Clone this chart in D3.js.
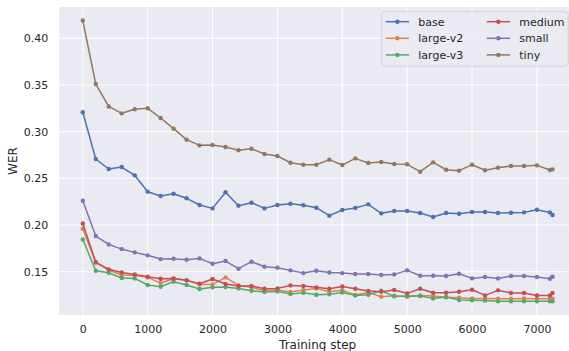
<!DOCTYPE html>
<html><head><meta charset="utf-8">
<script src="https://cdn.jsdelivr.net/npm/d3@7"></script>
<style>body{margin:0;background:#fff}svg{display:block}text{font-family:"DejaVu Sans",sans-serif;fill:#262626}</style>
</head><body><div id="chart"></div>
<script>
const steps = [0,200,400,600,800,1000,1200,1400,1600,1800,2000,2200,2400,2600,2800,3000,3200,3400,3600,3800,4000,4200,4400,4600,4800,5000,5200,5400,5600,5800,6000,6200,6400,6600,6800,7000,7200,7240];
const seriesNames = ["base","large-v2","large-v3","medium","small","tiny"];
const colors = ["#4C72B0","#DD8452","#55A868","#C44E52","#8172B3","#937860"];
const base = [0.3207,0.2707,0.2600,0.2621,0.2532,0.2357,0.2310,0.2335,0.2286,0.2214,0.2178,0.2350,0.2207,0.2239,0.2178,0.2214,0.2228,0.2211,0.2185,0.2100,0.2160,0.2182,0.2221,0.2125,0.2150,0.2150,0.2128,0.2085,0.2128,0.2120,0.2139,0.2139,0.2128,0.2132,0.2135,0.2164,0.2135,0.2107];
const largeV2 = [0.1960,0.1596,0.1518,0.1464,0.1460,0.1439,0.1378,0.1425,0.1407,0.1364,0.1364,0.1439,0.1353,0.1332,0.1296,0.1303,0.1282,0.1303,0.1321,0.1285,0.1300,0.1250,0.1278,0.1232,0.1243,0.1232,0.1246,0.1239,0.1225,0.1221,0.1214,0.1214,0.1210,0.1210,0.1212,0.1210,0.1210,0.1210];
const largeV3 = [0.1846,0.1510,0.1489,0.1432,0.1428,0.1357,0.1339,0.1393,0.1357,0.1314,0.1332,0.1335,0.1321,0.1296,0.1282,0.1289,0.1260,0.1275,0.1253,0.1257,0.1278,0.1246,0.1253,0.1296,0.1235,0.1239,0.1239,0.1214,0.1229,0.1196,0.1193,0.1190,0.1182,0.1182,0.1182,0.1182,0.1182,0.1182];
const medium = [0.2017,0.1603,0.1525,0.1492,0.1471,0.1446,0.1425,0.1428,0.1407,0.1371,0.1421,0.1368,0.1346,0.1346,0.1317,0.1321,0.1353,0.1346,0.1332,0.1317,0.1342,0.1317,0.1293,0.1285,0.1303,0.1268,0.1317,0.1275,0.1275,0.1285,0.1307,0.1246,0.1300,0.1271,0.1271,0.1246,0.1246,0.1271];
const small = [0.2260,0.1882,0.1792,0.1742,0.1707,0.1675,0.1635,0.1639,0.1628,0.1642,0.1585,0.1614,0.1532,0.1607,0.1553,0.1543,0.1514,0.1485,0.1510,0.1492,0.1485,0.1475,0.1475,0.1464,0.1471,0.1514,0.1457,0.1457,0.1453,0.1478,0.1428,0.1443,0.1428,0.1453,0.1453,0.1443,0.1425,0.1446];
const tiny = [0.4190,0.3510,0.3270,0.3196,0.3240,0.3250,0.3146,0.3032,0.2914,0.2853,0.2857,0.2835,0.2800,0.2817,0.2760,0.2739,0.2667,0.2646,0.2646,0.2700,0.2642,0.2714,0.2664,0.2675,0.2653,0.2650,0.2571,0.2671,0.2592,0.2582,0.2646,0.2586,0.2614,0.2632,0.2632,0.2639,0.2589,0.2596];
const xTicks = [0,1000,2000,3000,4000,5000,6000,7000];
const yTicks = [0.15,0.20,0.25,0.30,0.35,0.40];
const xLabel = "Training step", yLabel = "WER";

const allSeries = [base, largeV2, largeV3, medium, small, tiny];
const W = 569, H = 351;
const m = {left:59.3, right:576, top:7, bottom:315};
const svg = d3.select("#chart").append("svg").attr("width",W).attr("height",H);
const x = d3.scaleLinear().domain([-362, 7602]).range([m.left, m.right]);
const y = d3.scaleLinear().domain([0.1036, 0.4335]).range([m.bottom, m.top]);

svg.append("rect").attr("x",m.left).attr("y",m.top).attr("width",m.right-m.left).attr("height",m.bottom-m.top).attr("fill","#EAEAF2");

const g = svg.append("g");
g.selectAll(".gx").data(xTicks).join("line").attr("x1",d=>x(d)).attr("x2",d=>x(d)).attr("y1",m.top).attr("y2",m.bottom).attr("stroke","#fff").attr("stroke-width",1);
g.selectAll(".gy").data(yTicks).join("line").attr("y1",d=>y(d)).attr("y2",d=>y(d)).attr("x1",m.left).attr("x2",m.right).attr("stroke","#fff").attr("stroke-width",1);

const xAxis = svg.append("g").attr("transform",`translate(0,${m.bottom})`).call(d3.axisBottom(x).tickValues(xTicks).tickSize(0).tickPadding(10).tickFormat(d3.format("d")));
const yAxis = svg.append("g").attr("transform",`translate(${m.left},0)`).call(d3.axisLeft(y).tickValues(yTicks).tickSize(0).tickPadding(11).tickFormat(d3.format(".2f")));
[xAxis,yAxis].forEach(a=>{a.select(".domain").remove(); a.selectAll("text").attr("font-size",11).attr("fill","#262626").attr("font-family","DejaVu Sans");});

svg.append("text").attr("x",(m.left+m.right)/2).attr("y",349).attr("text-anchor","middle").attr("font-size",12).text(xLabel);
svg.append("text").attr("transform",`translate(17,${(m.top+m.bottom)/2}) rotate(-90)`).attr("text-anchor","middle").attr("font-size",12).text(yLabel);

const line = d3.line().x((d,i)=>x(steps[i])).y(d=>y(d));
allSeries.forEach((s,k)=>{
  const sg = svg.append("g");
  sg.append("path").datum(s).attr("d",line).attr("fill","none").attr("stroke",colors[k]).attr("stroke-width",1.5).attr("stroke-linejoin","round");
  sg.selectAll("circle").data(s).join("circle").attr("cx",(d,i)=>x(steps[i])).attr("cy",d=>y(d)).attr("r",2.2).attr("fill",colors[k]);
});

// legend
const lg = svg.append("g");
lg.append("rect").attr("x",381.7).attr("y",11.7).attr("width",186.5).attr("height",54.5).attr("rx",3).attr("fill","#EAEAF2").attr("fill-opacity",0.8).attr("stroke","#CCCCCC").attr("stroke-width",0.8);
seriesNames.forEach((n,k)=>{
  const col = Math.floor(k/3), row = k%3;
  const lx = col===0 ? 385.7 : 486.7;
  const ly = 21.7 + row*16.6;
  lg.append("line").attr("x1",lx).attr("x2",lx+23.3).attr("y1",ly).attr("y2",ly).attr("stroke",colors[k]).attr("stroke-width",1.5);
  lg.append("circle").attr("cx",lx+11.65).attr("cy",ly).attr("r",2.2).attr("fill",colors[k]);
  lg.append("text").attr("x",lx+32.6).attr("y",ly).attr("dy","0.35em").attr("font-size",11).text(n);
});
</script></body></html>
